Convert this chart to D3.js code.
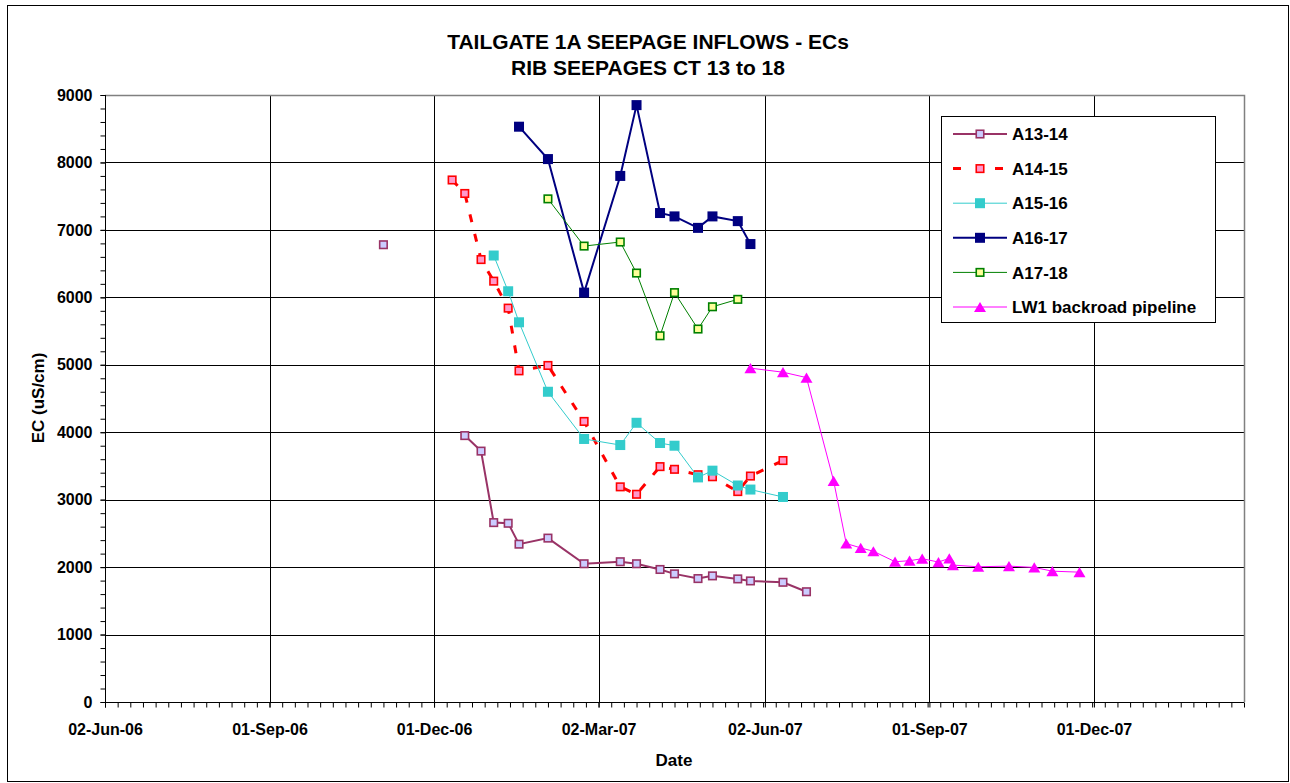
<!DOCTYPE html>
<html>
<head>
<meta charset="utf-8">
<script src="https://cdn.jsdelivr.net/npm/d3@7"></script>
<style>
  html, body { margin: 0; padding: 0; background: #fff; }
  svg { display: block; }
  text { font-family: "Liberation Sans", Arial, sans-serif; font-weight: bold; fill: #000; }
</style>
</head>
<body>
<svg id="chart" width="1290" height="783"></svg>
<script>
// ---------------- DATA ----------------
const titleLines = ["TAILGATE 1A SEEPAGE INFLOWS - ECs", "RIB SEEPAGES CT 13 to 18"];
const xTitle = "Date";
const yTitle = "EC (uS/cm)";

const sampleDates = ["2006-11-03", "2006-12-11", "2006-12-18", "2006-12-27", "2007-01-03", "2007-01-11",
  "2007-01-17", "2007-02-02", "2007-02-22", "2007-03-14", "2007-03-23", "2007-04-05", "2007-04-13",
  "2007-04-26", "2007-05-04", "2007-05-18", "2007-05-25", "2007-06-12", "2007-06-25"];

const a1314 = [6780, null, 3950, 3720, 2660, 2650, 2340, 2430, 2050, 2080, 2050, 1965, 1900, 1830, 1870, 1825, 1795, 1775, 1635];
const a1415 = [null, 7740, 7540, 6560, 6240, 5840, 4910, 4990, 4160, 3190, 3080, 3490, 3450, 3370, 3340, 3120, 3350, 3580, null];
const a1516 = [null, null, null, null, 6620, 6090, 5630, 4600, 3900, 3810, 4140, 3840, 3800, 3330, 3430, 3210, 3150, 3040, null];
const a1617 = [null, null, null, null, null, null, 8530, 8050, 6070, 7800, 8850, 7250, 7200, 7030, 7200, 7130, 6790, null, null];
const a1718 = [null, null, null, null, null, null, null, 7460, 6760, 6820, 6360, 5430, 6070, 5530, 5860, 5970, null, null, null];

const lw1Dates = ["2007-05-25", "2007-06-12", "2007-06-25", "2007-07-10", "2007-07-17", "2007-07-25",
  "2007-08-01", "2007-08-13", "2007-08-21", "2007-08-28", "2007-09-06", "2007-09-12", "2007-09-14",
  "2007-09-28", "2007-10-15", "2007-10-29", "2007-11-08", "2007-11-23"];
const lw1Values = [4950, 4890, 4810, 3280, 2350, 2285, 2235, 2080, 2095, 2125, 2075, 2130, 2030,
  2005, 2015, 1995, 1940, 1925];

const seriesNames = ["A13-14", "A14-15", "A15-16", "A16-17", "A17-18", "LW1 backroad pipeline"];

const xStart = "2006-06-02";
const xSpanDays = 630;
const xTickDates = ["2006-06-02", "2006-09-01", "2006-12-01", "2007-03-02", "2007-06-02", "2007-09-01", "2007-12-01"];
const xTickLabels = ["02-Jun-06", "01-Sep-06", "01-Dec-06", "02-Mar-07", "02-Jun-07", "01-Sep-07", "01-Dec-07"];
const yTicks = [0, 1000, 2000, 3000, 4000, 5000, 6000, 7000, 8000, 9000];

// ---------------- STYLES ----------------
const styles = [
  { line: "#993366", width: 2, dash: null, shape: "square", size: 7.5, fill: "#CCCCFF", stroke: "#993366", sw: 1.6 },
  { line: "#FF0000", width: 3, dash: "8,12", shape: "square", size: 7.5, fill: "#FF99CC", stroke: "#FF0000", sw: 1.6 },
  { line: "#33CCCC", width: 1, dash: null, shape: "square", size: 10, fill: "#33CCCC", stroke: "none", sw: 0 },
  { line: "#000080", width: 2, dash: null, shape: "square", size: 10, fill: "#000080", stroke: "none", sw: 0 },
  { line: "#008000", width: 1, dash: null, shape: "square", size: 7.5, fill: "#FFFF99", stroke: "#008000", sw: 1.6 },
  { line: "#FF00FF", width: 1, dash: null, shape: "triangle", size: 12, fill: "#FF00FF", stroke: "none", sw: 0 }
];

// ---------------- CHART ----------------
const parse = d3.utcParse("%Y-%m-%d");
const svg = d3.select("#chart");
const W = 1290, H = 783;
const plot = { left: 105, right: 1244, top: 95, bottom: 702 };

svg.append("rect").attr("x", 0).attr("y", 0).attr("width", W).attr("height", H).attr("fill", "#fff");
svg.append("rect").attr("x", 7.5).attr("y", 5.5).attr("width", 1281).attr("height", 776)
  .attr("fill", "none").attr("stroke", "#000").attr("stroke-width", 1);

const x0 = parse(xStart);
const x = d3.scaleUtc().domain([x0, d3.utcDay.offset(x0, xSpanDays)]).range([plot.left, plot.right]);
const y = d3.scaleLinear().domain([0, 9000]).range([plot.bottom, plot.top]);

// title
titleLines.forEach((t, i) => {
  svg.append("text").attr("x", 648).attr("y", 49 + i * 26).attr("text-anchor", "middle")
    .style("font-size", "21px").text(t);
});

// gridlines
const g = svg.append("g");
g.selectAll("line.hg").data(yTicks.filter(v => v > 0 && v < 9000)).join("line")
  .attr("x1", plot.left).attr("x2", plot.right)
  .attr("y1", d => Math.round(y(d)) + 0.5).attr("y2", d => Math.round(y(d)) + 0.5)
  .attr("stroke", "#000").attr("stroke-width", 1);
g.selectAll("line.vg").data(xTickDates.slice(1)).join("line")
  .attr("x1", d => Math.round(x(parse(d))) + 0.5).attr("x2", d => Math.round(x(parse(d))) + 0.5)
  .attr("y1", plot.top).attr("y2", plot.bottom)
  .attr("stroke", "#000").attr("stroke-width", 1);
// plot border top/right (gray)
g.append("path")
  .attr("d", `M${plot.left},${plot.top + 0.5}H${plot.right + 0.5}V${plot.bottom}`)
  .attr("fill", "none").attr("stroke", "#808080").attr("stroke-width", 1.5);

// axes
const fmtNone = () => "";
const yMinor = d3.range(0, 9001, 200);
svg.append("g").attr("transform", `translate(${plot.left + 0.5},0)`)
  .call(d3.axisLeft(y).tickValues(yMinor).tickSize(5).tickFormat(fmtNone))
  .call(s => s.select(".domain").remove());
const yAx = svg.append("g").attr("transform", `translate(${plot.left + 0.5},0)`)
  .call(d3.axisLeft(y).tickValues(yTicks).tickSize(5).tickPadding(8).tickFormat(d3.format("d")));
yAx.selectAll("text").style("font-size", "16px").style("font-family", "Liberation Sans, Arial, sans-serif").style("font-weight", "bold");
yAx.select(".domain").attr("d", `M0,${plot.top}V${plot.bottom}`).attr("stroke", "#000");
yAx.selectAll(".tick line").attr("stroke", "#000");

const xMinor = d3.range(0, xSpanDays + 1, 7).map(d => d3.utcDay.offset(x0, d));
svg.append("g").attr("transform", `translate(0,${plot.bottom + 0.5})`)
  .call(d3.axisBottom(x).tickValues(xMinor).tickSize(5).tickFormat(fmtNone))
  .call(s => s.select(".domain").remove());
const xAx = svg.append("g").attr("transform", `translate(0,${plot.bottom + 0.5})`)
  .call(d3.axisBottom(x).tickValues(xTickDates.map(parse)).tickSize(5).tickPadding(16)
    .tickFormat((d, i) => xTickLabels[i]));
xAx.selectAll("text").style("font-size", "16px").style("font-family", "Liberation Sans, Arial, sans-serif").style("font-weight", "bold");
xAx.select(".domain").attr("d", `M${plot.left},0H${plot.right}`).attr("stroke", "#000");

// axis titles
svg.append("text").attr("x", 674).attr("y", 766).attr("text-anchor", "middle").style("font-size", "17px").text(xTitle);
svg.append("text").attr("transform", "translate(44,398) rotate(-90)").attr("text-anchor", "middle")
  .style("font-size", "17px").text(yTitle);

// series
const seriesData = [
  sampleDates.map((d, i) => ({ d: parse(d), v: a1314[i] })),
  sampleDates.map((d, i) => ({ d: parse(d), v: a1415[i] })),
  sampleDates.map((d, i) => ({ d: parse(d), v: a1516[i] })),
  sampleDates.map((d, i) => ({ d: parse(d), v: a1617[i] })),
  sampleDates.map((d, i) => ({ d: parse(d), v: a1718[i] })),
  lw1Dates.map((d, i) => ({ d: parse(d), v: lw1Values[i] }))
];

function drawMarker(sel, st, cx, cy) {
  if (st.shape === "square") {
    sel.append("rect").attr("x", cx - st.size / 2).attr("y", cy - st.size / 2)
      .attr("width", st.size).attr("height", st.size)
      .attr("fill", st.fill).attr("stroke", st.stroke).attr("stroke-width", st.sw);
  } else {
    const h = st.size * 0.85, w = st.size;
    sel.append("path")
      .attr("d", `M${cx},${cy - h / 2}L${cx + w / 2},${cy + h / 2}L${cx - w / 2},${cy + h / 2}Z`)
      .attr("fill", st.fill);
  }
}

const line = d3.line().defined(p => p.v !== null).x(p => x(p.d)).y(p => y(p.v));
const sg = svg.append("g");
seriesData.forEach((data, i) => {
  const st = styles[i];
  const gg = sg.append("g");
  gg.append("path").attr("d", line(data)).attr("fill", "none")
    .attr("stroke", st.line).attr("stroke-width", st.width)
    .attr("stroke-dasharray", st.dash);
  data.filter(p => p.v !== null).forEach(p => drawMarker(gg, st, x(p.d), y(p.v)));
});

// legend
const lg = svg.append("g");
lg.append("rect").attr("x", 941.5).attr("y", 116.5).attr("width", 274).attr("height", 206)
  .attr("fill", "#fff").attr("stroke", "#000").attr("stroke-width", 1);
seriesNames.forEach((name, i) => {
  const cy = 134 + i * 34.6;
  const st = styles[i];
  lg.append("line").attr("x1", 953).attr("x2", 1007).attr("y1", cy).attr("y2", cy)
    .attr("stroke", st.line).attr("stroke-width", st.width).attr("stroke-dasharray", st.dash ? "8,34" : null);
  drawMarker(lg, st, 980, cy);
  lg.append("text").attr("x", 1012).attr("y", cy).attr("dy", "0.36em").style("font-size", "17px").text(name);
});
</script>
</body>
</html>
